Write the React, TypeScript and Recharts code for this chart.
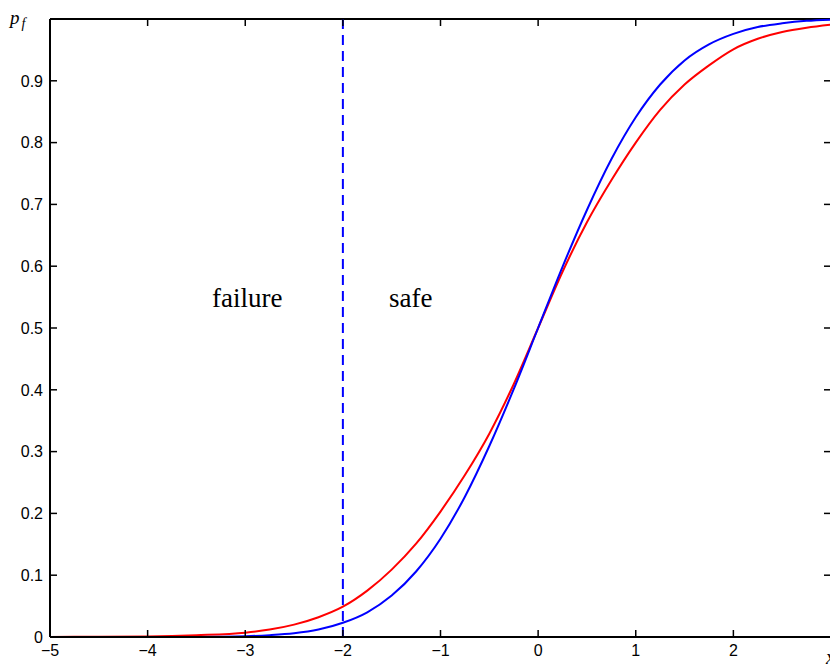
import React from 'react';
import { LineChart, Line, XAxis, YAxis, ReferenceLine, ReferenceDot } from 'recharts';

// x grid the curves were read on
const xValues = [
  -5, -4.5, -4, -3.5, -3, -2.75, -2.5, -2.25, -2, -1.75, -1.5, -1.25, -1, -0.75, -0.5, -0.25,
  0, 0.25, 0.5, 0.75, 1, 1.25, 1.5, 1.75, 2, 2.25, 2.5, 2.75, 3,
];
// red curve (heavier tails)
const redValues = [
  0.0, 0.0005, 0.001, 0.003, 0.007, 0.012, 0.02, 0.032, 0.049, 0.075, 0.109, 0.151, 0.203, 0.262, 0.329, 0.409,
  0.5, 0.591, 0.671, 0.739, 0.8, 0.853, 0.894, 0.925, 0.951, 0.968, 0.979, 0.986, 0.991,
];
// blue curve
const blueValues = [
  0.0, 0.0, 0.0, 0.0002, 0.0013, 0.003, 0.006, 0.012, 0.023, 0.04, 0.067, 0.106, 0.159, 0.227, 0.309, 0.401,
  0.5, 0.599, 0.691, 0.773, 0.841, 0.894, 0.933, 0.959, 0.976, 0.987, 0.993, 0.997, 0.999,
];
const xTicks = [-5, -4, -3, -2, -1, 0, 1, 2];
const yTicks = [0, 0.1, 0.2, 0.3, 0.4, 0.5, 0.6, 0.7, 0.8, 0.9];
const threshold = -2;

const data = xValues.map((x, i) => ({ x, red: redValues[i], blue: blueValues[i] }));

const PLOT_LEFT = 50;
const PLOT_RIGHT = 831;
const PLOT_TOP = 19;
const PLOT_BOTTOM = 637;
const TICK_LEN = 7;
const TICK_FONT = 'Liberation Sans, Arial, sans-serif';
const SERIF = 'Liberation Serif, Times New Roman, serif';

const fmt = (v: number) => String(v).replace('-', '\u2212');

function XTick({ x, y, payload }: any) {
  return (
    <g>
      <line x1={x} x2={x} y1={PLOT_BOTTOM} y2={PLOT_BOTTOM - TICK_LEN} stroke="#000" strokeWidth={1.5} />
      <line x1={x} x2={x} y1={PLOT_TOP} y2={PLOT_TOP + TICK_LEN} stroke="#000" strokeWidth={1.5} />
      <text x={x} y={y} dy="0.71em" textAnchor="middle" fontSize={16} fontFamily={TICK_FONT} fill="#000">
        {fmt(payload.value)}
      </text>
    </g>
  );
}

function YTick({ x, y, payload }: any) {
  return (
    <g>
      <line x1={PLOT_LEFT} x2={PLOT_LEFT + TICK_LEN} y1={y} y2={y} stroke="#000" strokeWidth={1.5} />
      <line x1={PLOT_RIGHT - TICK_LEN} x2={PLOT_RIGHT} y1={y} y2={y} stroke="#000" strokeWidth={1.5} />
      <text x={x} y={y} dy="0.36em" textAnchor="end" fontSize={16} fontFamily={TICK_FONT} fill="#000">
        {fmt(payload.value)}
      </text>
    </g>
  );
}

const serifLabel = (text: string) => (p: any) => (
  <text x={p.cx} y={p.cy} textAnchor="start" fontSize={27} fontFamily={SERIF} fill="#000">
    {text}
  </text>
);

export default function App() {
  return (
    <div style={{ position: 'absolute', left: 0, top: 0, width: 830, height: 666, overflow: 'hidden', background: '#fff' }}>
      <LineChart width={850} height={666} data={data} margin={{ top: PLOT_TOP, right: 19, left: 0, bottom: 0 }}>
        <XAxis
          dataKey="x"
          type="number"
          domain={[-5, 3]}
          ticks={xTicks}
          height={29}
          tickSize={0}
          tickMargin={8}
          tickLine={false}
          axisLine={{ stroke: '#000', strokeWidth: 2 }}
          tick={<XTick />}
          label={{
            content: () => (
              <text x={826} y={664} fontSize={20} fontStyle="italic" fontFamily={SERIF} fill="#000">
                x
              </text>
            ),
          }}
        />
        <YAxis
          type="number"
          domain={[0, 1]}
          ticks={yTicks}
          width={50}
          tickSize={0}
          tickMargin={7}
          tickLine={false}
          axisLine={{ stroke: '#000', strokeWidth: 2 }}
          tick={<YTick />}
          label={{
            content: () => (
              <text x={10} y={24} fontSize={19} fontStyle="italic" fontFamily={SERIF} fill="#000">
                p
                <tspan dx={2} dy={4} fontSize={14}>f</tspan>
              </text>
            ),
          }}
        />
        <ReferenceLine y={1} stroke="#000" strokeWidth={2} />
        <ReferenceLine x={threshold} stroke="#0000ff" strokeWidth={2} strokeDasharray="10 6" />
        <ReferenceDot x={-3.34} y={0.534} r={0} shape={serifLabel('failure')} />
        <ReferenceDot x={-1.527} y={0.534} r={0} shape={serifLabel('safe')} />
        <Line type="monotone" dataKey="red" stroke="#ff0000" strokeWidth={2} dot={false} isAnimationActive={false} />
        <Line type="monotone" dataKey="blue" stroke="#0000ff" strokeWidth={2} dot={false} isAnimationActive={false} />
      </LineChart>
    </div>
  );
}
